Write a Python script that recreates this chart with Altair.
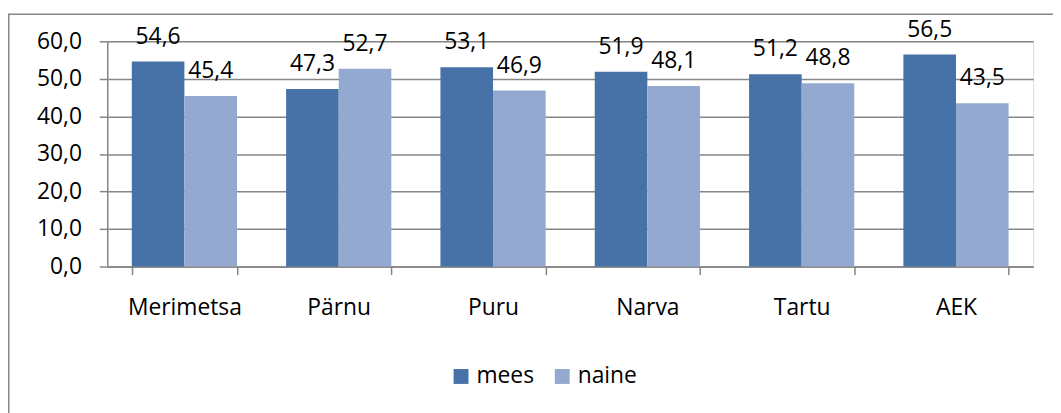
import altair as alt
import pandas as pd

categories = ["Merimetsa", "Pärnu", "Puru", "Narva", "Tartu", "AEK"]
mees = [54.6, 47.3, 53.1, 51.9, 51.2, 56.5]
naine = [45.4, 52.7, 46.9, 48.1, 48.8, 43.5]
series = ["mees", "naine"]
colors = ["#4672A8", "#94A9D0"]
yticks = [0, 10, 20, 30, 40, 50, 60]

rows = []
for c, m, n in zip(categories, mees, naine):
    rows.append({"cat": c, "sex": "mees", "val": m})
    rows.append({"cat": c, "sex": "naine", "val": n})
df = pd.DataFrame(rows)
df["lab"] = df["val"].map(lambda v: f"{v:.1f}".replace(".", ","))

FONT = "Open Sans"
FS = 23
W, H = 933, 227

x = alt.X("cat:N", sort=categories, title=None,
          scale=alt.Scale(paddingInner=0.318, paddingOuter=0.159),
          axis=alt.Axis(labelAngle=0, labelFontSize=FS, labelFont=FONT, labelColor="#000000",
                        labelPadding=22, tickBand="extent", tickSize=8, tickColor="#868686",
                        tickWidth=1.5, domainColor="#868686", domainWidth=1.5, grid=False))
y = alt.Y("val:Q", title=None,
          scale=alt.Scale(domain=[0, 60], nice=False),
          axis=alt.Axis(values=yticks, labelOverlap=False,
                        labelExpr="replace(format(datum.value, '.1f'), '.', ',')",
                        labelFontSize=FS, labelFont=FONT, labelColor="#000000",
                        labelPadding=18, tickSize=8, tickColor="#868686", tickWidth=1.5,
                        domainColor="#868686", domainWidth=1.5,
                        gridColor="#868686", gridWidth=1.5))
xo = alt.XOffset("sex:N", sort=series, scale=alt.Scale(paddingInner=0, paddingOuter=0))

base = alt.Chart(df)

bars = base.mark_bar(size=53).encode(
    x=x, y=y, xOffset=xo,
    color=alt.Color("sex:N", sort=series, scale=alt.Scale(domain=series, range=colors),
                    legend=alt.Legend(title=None, orient="none", direction="horizontal",
                                      legendX=345, legendY=326, symbolType="square",
                                      symbolSize=225, symbolStrokeWidth=0,
                                      labelFontSize=FS, labelFont=FONT, labelColor="#000000",
                                      columnPadding=16, labelOffset=4)),
)

labels = base.mark_text(fontSize=FS, font=FONT, color="#000000", baseline="alphabetic", dy=-18).encode(
    x=x, y=y, xOffset=xo,
    text="lab:N",
)

frame = alt.Chart(pd.DataFrame({"k": [0]})).mark_rect(
    fill=None, stroke="#868686", strokeWidth=1.5
).encode(x=alt.value(-99.25), x2=alt.value(1000), y=alt.value(-27.25), y2=alt.value(500))

chart = alt.layer(bars, labels, frame).properties(
    width=W, height=H,
    autosize=alt.AutoSizeParams(type="none"),
    padding={"left": 100, "top": 32, "right": 20, "bottom": 146},
).configure_view(stroke=None).configure(background="white")

chart.save("out.html", embed_options={"renderer": "svg", "actions": False})
